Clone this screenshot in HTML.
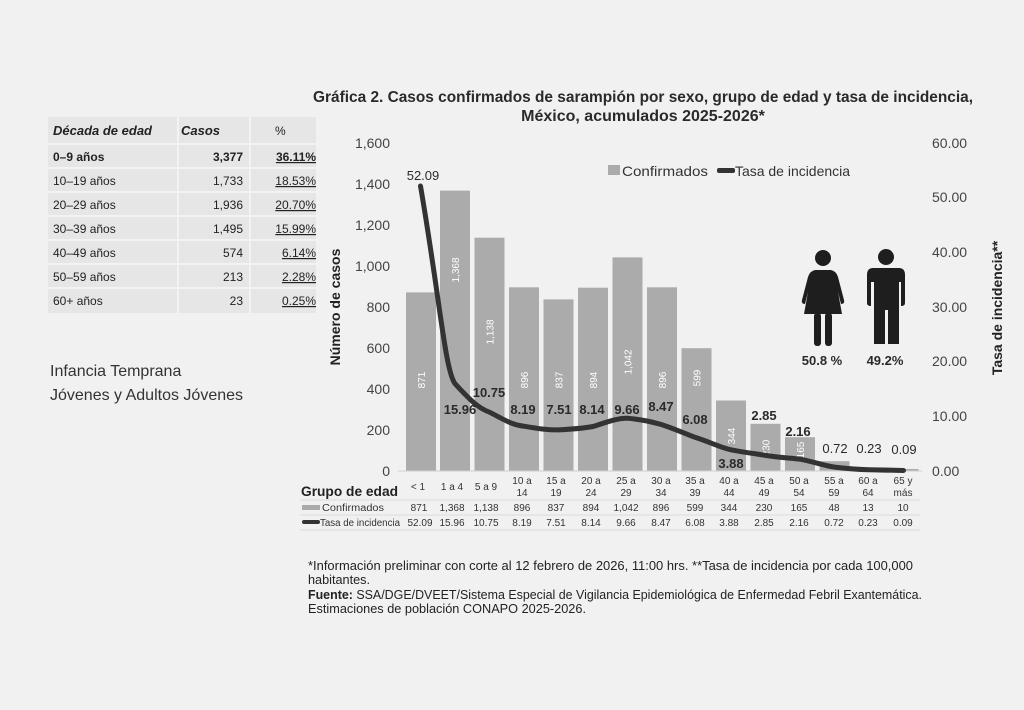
<!DOCTYPE html>
<html><head><meta charset="utf-8"><style>
html,body{margin:0;padding:0;background:#f1f1f1;}
svg{display:block;font-family:"Liberation Sans",sans-serif;}
</style></head><body>
<svg width="1024" height="710" viewBox="0 0 1024 710" xmlns="http://www.w3.org/2000/svg">
<rect width="1024" height="710" fill="#f1f1f1"/>
<!-- left table -->
<g font-family="Liberation Sans, sans-serif" font-size="12" fill="#222">
<rect x="48" y="117" width="268" height="196" fill="#e6e6e6"/>
<g stroke="#f3f3f3" stroke-width="2">
<line x1="48" y1="144" x2="316" y2="144"/><line x1="48" y1="168" x2="316" y2="168"/><line x1="48" y1="192" x2="316" y2="192"/><line x1="48" y1="216" x2="316" y2="216"/><line x1="48" y1="240" x2="316" y2="240"/><line x1="48" y1="264" x2="316" y2="264"/><line x1="48" y1="288" x2="316" y2="288"/>
<line x1="178" y1="117" x2="178" y2="313"/><line x1="250" y1="117" x2="250" y2="313"/>
</g>
<text x="53" y="135" font-weight="bold" font-style="italic" font-size="13">Década de edad</text>
<text x="181" y="135" font-weight="bold" font-style="italic" font-size="13">Casos</text>
<text x="275" y="135">%</text>
<text x="53" y="161" font-weight="bold">0–9 años</text><text x="243" y="161" text-anchor="end" font-weight="bold">3,377</text><text x="316" y="161" text-anchor="end" font-weight="bold" text-decoration="underline">36.11%</text>
<text x="53" y="185">10–19 años</text><text x="243" y="185" text-anchor="end">1,733</text><text x="316" y="185" text-anchor="end" text-decoration="underline">18.53%</text>
<text x="53" y="209">20–29 años</text><text x="243" y="209" text-anchor="end">1,936</text><text x="316" y="209" text-anchor="end" text-decoration="underline">20.70%</text>
<text x="53" y="233">30–39 años</text><text x="243" y="233" text-anchor="end">1,495</text><text x="316" y="233" text-anchor="end" text-decoration="underline">15.99%</text>
<text x="53" y="257">40–49 años</text><text x="243" y="257" text-anchor="end">574</text><text x="316" y="257" text-anchor="end" text-decoration="underline">6.14%</text>
<text x="53" y="281">50–59 años</text><text x="243" y="281" text-anchor="end">213</text><text x="316" y="281" text-anchor="end" text-decoration="underline">2.28%</text>
<text x="53" y="305">60+ años</text><text x="243" y="305" text-anchor="end">23</text><text x="316" y="305" text-anchor="end" text-decoration="underline">0.25%</text>
<text x="50" y="376" font-size="16" fill="#333">Infancia Temprana</text>
<text x="50" y="400" font-size="16" fill="#333">Jóvenes y Adultos Jóvenes</text>
</g>
<!-- title -->
<text x="643" y="102" text-anchor="middle" font-weight="bold" font-size="16" fill="#2a2a2a" textLength="660" lengthAdjust="spacingAndGlyphs">Gráfica 2. Casos confirmados  de sarampión por sexo, grupo de edad y tasa de incidencia,</text>
<text x="643" y="121" text-anchor="middle" font-weight="bold" font-size="16" fill="#2a2a2a">México, acumulados 2025-2026*</text>
<!-- axes -->
<g font-size="14" fill="#444" text-anchor="end">
<text x="390" y="148">1,600</text><text x="390" y="189">1,400</text><text x="390" y="230">1,200</text><text x="390" y="271">1,000</text><text x="390" y="312">800</text><text x="390" y="353">600</text><text x="390" y="394">400</text><text x="390" y="435">200</text><text x="390" y="476">0</text>
</g>
<g font-size="14" fill="#444">
<text x="932" y="148">60.00</text><text x="932" y="202">50.00</text><text x="932" y="257">40.00</text><text x="932" y="312">30.00</text><text x="932" y="366">20.00</text><text x="932" y="421">10.00</text><text x="932" y="476">0.00</text>
</g>
<text transform="translate(340,307) rotate(-90)" text-anchor="middle" font-weight="bold" font-size="14" fill="#222">Número de casos</text>
<text transform="translate(1002,308) rotate(-90)" text-anchor="middle" font-weight="bold" font-size="14" fill="#222">Tasa de incidencia**</text>
<!-- legend -->
<rect x="608" y="165" width="12" height="10" fill="#ababab"/>
<text x="622" y="176" font-size="14" fill="#333" textLength="86" lengthAdjust="spacingAndGlyphs">Confirmados</text>
<rect x="717" y="168" width="18" height="5" rx="2" fill="#333"/>
<text x="735" y="176" font-size="14" fill="#333" textLength="115" lengthAdjust="spacingAndGlyphs">Tasa de incidencia</text>
<!-- bars -->
<g fill="#ababab">
<rect x="406" y="292.4" width="30" height="178.6"/>
<rect x="440" y="190.6" width="30" height="280.4"/>
<rect x="474.5" y="237.7" width="30" height="233.3"/>
<rect x="509" y="287.3" width="30" height="183.7"/>
<rect x="543.5" y="299.4" width="30" height="171.6"/>
<rect x="578" y="287.7" width="30" height="183.3"/>
<rect x="612.5" y="257.4" width="30" height="213.6"/>
<rect x="647" y="287.3" width="30" height="183.7"/>
<rect x="681.5" y="348.2" width="30" height="122.8"/>
<rect x="716" y="400.5" width="30" height="70.5"/>
<rect x="750.5" y="423.8" width="30" height="47.2"/>
<rect x="785" y="437.2" width="30" height="33.8"/>
<rect x="819.5" y="461.2" width="30" height="9.8"/>
<rect x="854" y="468.3" width="30" height="2.7"/>
<rect x="888.5" y="469" width="30" height="2"/>
</g>
<g font-size="10" fill="#fff" text-anchor="middle">
<text transform="translate(425,380) rotate(-90)">871</text>
<text transform="translate(459,270) rotate(-90)">1,368</text>
<text transform="translate(493.5,332) rotate(-90)">1,138</text>
<text transform="translate(528,380) rotate(-90)">896</text>
<text transform="translate(562.5,380) rotate(-90)">837</text>
<text transform="translate(597,380) rotate(-90)">894</text>
<text transform="translate(631.5,362) rotate(-90)">1,042</text>
<text transform="translate(666,380) rotate(-90)">896</text>
<text transform="translate(700.5,378) rotate(-90)">599</text>
<text transform="translate(735,436) rotate(-90)">344</text>
<text transform="translate(769.5,448) rotate(-90)">230</text>
<text transform="translate(804,450) rotate(-90)">165</text>
</g>
<line x1="398" y1="471" x2="922" y2="471" stroke="#d0d0d0"/>
<!-- line -->
<path d="M420.5,186 C440,300 445,370 455,383.7 C470,400 478,408 489.5,412.2 C505,420 512,425 524,426.2 C540,429 548,430 558.5,429.9 C575,429 585,428 593,426.5 C610,421 618,418 627.5,418.2 C645,420 652,422 662,424.7 C678,430 688,435 696.5,437.8 C712,443 722,448 731,449.8 C748,453 758,454 765.5,455.4 C782,458 792,458 800,459.2 C815,462 825,466 834.5,467.1 C850,469 860,469.5 869,469.7 L903.5,470.5" fill="none" stroke="#333" stroke-width="5" stroke-linecap="round"/>
<g font-size="13" font-weight="bold" fill="#2a2a2a" text-anchor="middle">
<text x="423" y="180" font-weight="normal">52.09</text>
<text x="460" y="414">15.96</text><text x="489" y="397">10.75</text><text x="523" y="414">8.19</text><text x="559" y="414">7.51</text><text x="592" y="414">8.14</text><text x="627" y="414">9.66</text><text x="661" y="411">8.47</text><text x="695" y="424">6.08</text><text x="731" y="468">3.88</text><text x="764" y="420">2.85</text><text x="798" y="436">2.16</text>
<text x="835" y="453" font-weight="normal">0.72</text><text x="869" y="453" font-weight="normal">0.23</text><text x="904" y="454" font-weight="normal">0.09</text>
</g>
<!-- icons -->
<g fill="#1e1e1e">
<circle cx="823" cy="258" r="8"/>
<path d="M815,270 L831,270 Q836,271 838,277 L844,300 Q845,304 841,304 L838,292 L842,314 L804,314 L808,292 L805,304 Q801,304 802,300 L808,277 Q810,271 815,270 Z"/>
<rect x="814" y="313" width="7" height="33" rx="3"/><rect x="825" y="313" width="7" height="33" rx="3"/>
<circle cx="886" cy="257" r="8"/>
<path d="M873,268 L899,268 Q905,268 905,275 L905,303 Q905,306 901,306 L901,282 L899,282 L899,344 L888,344 L888,310 L885,310 L885,344 L874,344 L874,282 L871,282 L871,306 Q867,306 867,303 L867,275 Q867,268 873,268 Z"/>
</g>
<text x="822" y="365" text-anchor="middle" font-weight="bold" font-size="13" fill="#2a2a2a">50.8 %</text>
<text x="885" y="365" text-anchor="middle" font-weight="bold" font-size="13" fill="#2a2a2a">49.2%</text>
<!-- bottom table -->
<g stroke="#dcdcdc" stroke-width="1">
<line x1="300" y1="500" x2="920" y2="500"/><line x1="300" y1="515" x2="920" y2="515"/><line x1="300" y1="530" x2="920" y2="530"/>
</g>
<text x="301" y="496" font-weight="bold" font-size="14" fill="#222" textLength="97" lengthAdjust="spacingAndGlyphs">Grupo de edad</text>
<rect x="302" y="505" width="18" height="5" fill="#ababab"/>
<text x="322" y="511" font-size="10" fill="#333" textLength="62" lengthAdjust="spacingAndGlyphs">Confirmados</text>
<rect x="302" y="520" width="18" height="4" rx="2" fill="#333"/>
<text x="320" y="526" font-size="10" fill="#333" textLength="80" lengthAdjust="spacingAndGlyphs">Tasa de incidencia</text>
<g font-size="10" fill="#333" text-anchor="middle">
<text x="418" y="490">&lt; 1</text><text x="452" y="490">1 a 4</text><text x="486" y="490">5 a 9</text>
<text x="522" y="484">10 a</text><text x="522" y="496">14</text>
<text x="556" y="484">15 a</text><text x="556" y="496">19</text>
<text x="591" y="484">20 a</text><text x="591" y="496">24</text>
<text x="626" y="484">25 a</text><text x="626" y="496">29</text>
<text x="661" y="484">30 a</text><text x="661" y="496">34</text>
<text x="695" y="484">35 a</text><text x="695" y="496">39</text>
<text x="729" y="484">40 a</text><text x="729" y="496">44</text>
<text x="764" y="484">45 a</text><text x="764" y="496">49</text>
<text x="799" y="484">50 a</text><text x="799" y="496">54</text>
<text x="834" y="484">55 a</text><text x="834" y="496">59</text>
<text x="868" y="484">60 a</text><text x="868" y="496">64</text>
<text x="903" y="484">65 y</text><text x="903" y="496">más</text>
<text x="419" y="511">871</text><text x="452" y="511">1,368</text><text x="486" y="511">1,138</text><text x="522" y="511">896</text><text x="556" y="511">837</text><text x="591" y="511">894</text><text x="626" y="511">1,042</text><text x="661" y="511">896</text><text x="695" y="511">599</text><text x="729" y="511">344</text><text x="764" y="511">230</text><text x="799" y="511">165</text><text x="834" y="511">48</text><text x="868" y="511">13</text><text x="903" y="511">10</text>
<text x="420" y="526">52.09</text><text x="452" y="526">15.96</text><text x="486" y="526">10.75</text><text x="522" y="526">8.19</text><text x="556" y="526">7.51</text><text x="591" y="526">8.14</text><text x="626" y="526">9.66</text><text x="661" y="526">8.47</text><text x="695" y="526">6.08</text><text x="729" y="526">3.88</text><text x="764" y="526">2.85</text><text x="799" y="526">2.16</text><text x="834" y="526">0.72</text><text x="868" y="526">0.23</text><text x="903" y="526">0.09</text>
</g>
<!-- footnotes -->
<g font-size="13" fill="#222">
<text x="308" y="570" textLength="605" lengthAdjust="spacingAndGlyphs">*Información preliminar con corte al 12 febrero de 2026, 11:00 hrs. **Tasa de incidencia por cada 100,000</text>
<text x="308" y="584" textLength="62" lengthAdjust="spacingAndGlyphs">habitantes.</text>
<text x="308" y="599" textLength="614" lengthAdjust="spacingAndGlyphs"><tspan font-weight="bold">Fuente:</tspan> SSA/DGE/DVEET/Sistema Especial de Vigilancia Epidemiológica de Enfermedad Febril Exantemática.</text>
<text x="308" y="613" textLength="278" lengthAdjust="spacingAndGlyphs">Estimaciones de población CONAPO 2025-2026.</text>
</g>
</svg>
</body></html>
